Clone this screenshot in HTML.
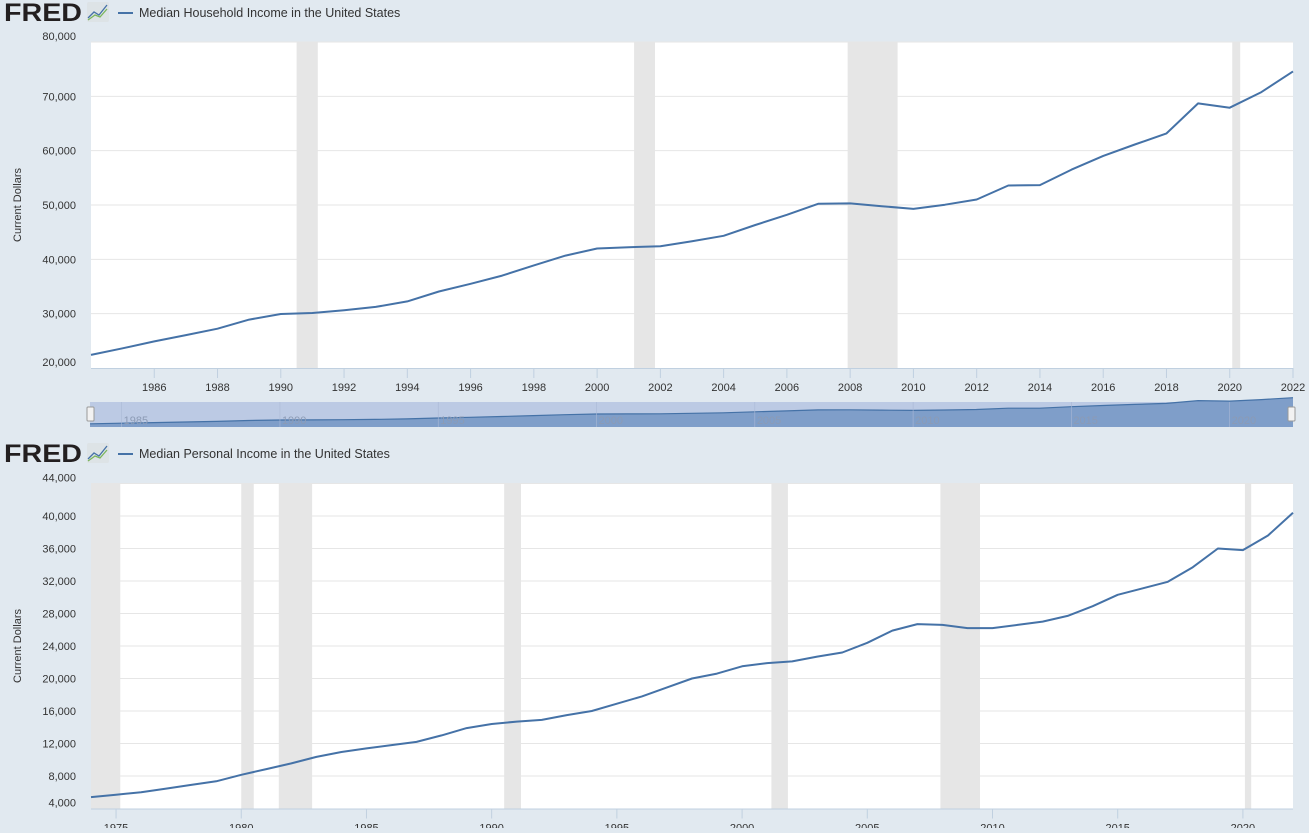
<!DOCTYPE html>
<html><head><meta charset="utf-8"><style>
html,body{margin:0;padding:0;background:#e1e9f0;}
body{width:1309px;height:828px;overflow:hidden;font-family:"Liberation Sans",sans-serif;}
svg text{font-family:"Liberation Sans",sans-serif;}
</style></head><body>
<svg id="s" width="1309" height="828" xmlns="http://www.w3.org/2000/svg">
<rect width="1309" height="828" fill="#e1e9f0"/>
</svg>
<script>
const S=document.getElementById('s');const NS='http://www.w3.org/2000/svg';
function el(t,a,txt){const e=document.createElementNS(NS,t);for(const k in a)e.setAttribute(k,a[k]);if(txt!==undefined)e.textContent=txt;S.appendChild(e);return e;}
function header(y,title){
 el('text',{x:4,y:y+21,'font-size':25,'font-weight':'bold',fill:'#231f20',textLength:78,lengthAdjust:'spacingAndGlyphs'},'FRED');
 el('rect',{x:87,y:y+2,width:22,height:20,fill:'#dde3e6',rx:2});
 el('polyline',{points:`${88},${y+18} ${94},${y+12} ${99},${y+15} ${107},${y+5}`,fill:'none',stroke:'#4572a7','stroke-width':1.3});
 el('polyline',{points:`${88},${y+20} ${95},${y+15} ${100},${y+17} ${107},${y+9}`,fill:'none',stroke:'#7ab55c','stroke-width':1.3});
 el('line',{x1:118,y1:y+13,x2:133,y2:y+13,stroke:'#4572a7','stroke-width':2});
 el('text',{x:139,y:y+17,'font-size':12.5,fill:'#333'},title);
}
function chart(o){
 const {x0,x1,y0,y1,ymin,ymax,ystep,xmin,xmax,data,rec,ticks,start,lab}=o;
 const X=v=>x0+(v-xmin)/(xmax-xmin)*(x1-x0), Y=v=>y1-(v-ymin)/(ymax-ymin)*(y1-y0);
 el('rect',{x:x0,y:y0,width:x1-x0,height:y1-y0,fill:'#fff'});
 rec.forEach(r=>el('rect',{x:X(r[0]),y:y0,width:X(r[1])-X(r[0]),height:y1-y0,fill:'#e6e6e6'}));
 for(let v=ymin;v<=ymax;v+=ystep){const y=Y(v);
  if(v>ymin)el('line',{x1:x0,y1:y,x2:x1,y2:y,stroke:'#e6e6e6','stroke-width':1});
  el('text',{x:76,y:y+(v==ymax?-2:(v==ymin?-2:4)),'font-size':11,fill:'#333','text-anchor':'end'},v.toLocaleString('en-US'));}
 el('line',{x1:x0,y1:y1+0.5,x2:x1,y2:y1+0.5,stroke:'#c0d0e0','stroke-width':1});
 ticks.forEach(t=>{const x=X(t);el('line',{x1:x,y1:y1,x2:x,y2:y1+10,stroke:'#c0d0e0'});
  el('text',{x:x,y:y1+23,'font-size':11,fill:'#333','text-anchor':'middle'},t);});
 el('polyline',{points:data.map((v,i)=>X(start+i).toFixed(1)+','+Y(v).toFixed(1)).join(' '),fill:'none',stroke:'#4572a7','stroke-width':2,'stroke-linejoin':'round'});
 el('text',{x:0,y:0,'font-size':11,fill:'#333','text-anchor':'middle',transform:`translate(21,${(y0+y1)/2}) rotate(-90)`},'Current Dollars');
 return {X,Y};
}
const hh=[22415,23618,24897,26061,27225,28906,29943,30126,30636,31241,32264,34076,35492,37005,38885,40696,41990,42228,42409,43318,44334,46326,48201,50233,50303,49777,49276,50054,51017,53585,53657,56516,59039,61136,63179,68703,67900,70784,74580];
const pi=[5400,5700,6000,6450,6900,7350,8150,8850,9550,10350,10950,11400,11800,12200,13000,13900,14400,14700,14900,15500,16000,16900,17800,18900,20000,20600,21500,21900,22100,22700,23200,24400,25900,26700,26600,26200,26200,26600,27000,27700,28900,30300,31100,31900,33700,36000,35800,37600,40400];
header(0,'Median Household Income in the United States');
const t1=[];for(let y=1986;y<=2022;y+=2)t1.push(y);
chart({x0:91,x1:1293,y0:42,y1:368,ymin:20000,ymax:80000,ystep:10000,xmin:1984,xmax:2022,data:hh,start:1984,
 rec:[[1990.5,1991.17],[2001.17,2001.83],[2007.92,2009.5],[2020.08,2020.33]],ticks:t1});
el('rect',{x:90,y:402,width:1203,height:25,fill:'#bccae4'});
(function(){const X=v=>90+(v-1984)/38*1203,Y=v=>425-(v-20000)/60000*30;
 let p=hh.map((v,i)=>X(1984+i).toFixed(1)+','+Y(v).toFixed(1)).join(' ');
 el('polygon',{points:`90,427 ${p} 1293,427`,fill:'#7f9ec9'});
 el('polyline',{points:p,fill:'none',stroke:'#4572a7','stroke-width':1.2});
 [1985,1990,1995,2000,2005,2010,2015,2020].forEach(y=>{el('line',{x1:X(y),y1:402,x2:X(y),y2:427,stroke:'#aab8d6','stroke-width':0.6});
  el('text',{x:X(y)+2,y:424,'font-size':11,fill:'#8c9bb5'},y);});})();
el('rect',{x:87,y:407,width:7,height:14,fill:'#f2f2f2',stroke:'#999',rx:1});
el('rect',{x:1288,y:407,width:7,height:14,fill:'#f2f2f2',stroke:'#999',rx:1});
header(441,'Median Personal Income in the United States');
chart({x0:91,x1:1293,y0:483.5,y1:808.5,ymin:4000,ymax:44000,ystep:4000,xmin:1974,xmax:2022,data:pi,start:1974,
 rec:[[1974,1975.17],[1980,1980.5],[1981.5,1982.83],[1990.5,1991.17],[2001.17,2001.83],[2007.92,2009.5],[2020.08,2020.33]],
 ticks:[1975,1980,1985,1990,1995,2000,2005,2010,2015,2020]});
</script>
</body></html>
